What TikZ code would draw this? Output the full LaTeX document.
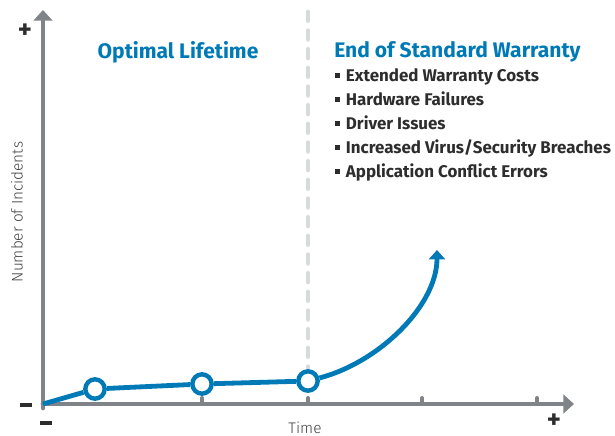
\documentclass[tikz,border=0pt]{standalone}
\usepackage{fontspec}
\setmainfont{Fira Sans}
\newfontfamily\lightfont{Fira Sans Light}
\usetikzlibrary{arrows.meta}
\definecolor{blueline}{RGB}{0,122,183}
\definecolor{axisgray}{RGB}{128,132,136}
\definecolor{dashgray}{RGB}{216,219,222}
\definecolor{textdark}{RGB}{45,45,45}
\begin{document}
\begin{tikzpicture}[x=0.75pt,y=-0.75pt,
  axis/.style={draw=axisgray,line width=3.6pt,line cap=round,-{Triangle[length=8pt,width=14pt]}},
  tick/.style={draw=axisgray,line width=3pt,line cap=round},
  dashline/.style={draw=dashgray,line width=3.6pt,line cap=round,dash pattern=on 6.5pt off 7.5pt},
  curve/.style={draw=blueline,line width=3.6pt},
  dot/.style={circle,draw=blueline,fill=white,line width=3.3pt,minimum size=14.5pt,inner sep=0pt},
  sign/.style={text=textdark,font=\bfseries\fontsize{20}{20}\selectfont,inner sep=0pt},
  title/.style={text=blueline,font=\fontsize{15.8}{16}\selectfont\bfseries,inner sep=0pt,anchor=base west},
  item/.style={text=textdark,font=\fontsize{12.7}{13}\selectfont\bfseries,inner sep=0pt,anchor=base west},
  axlabel/.style={text=textdark!90,font=\lightfont\fontsize{11.5}{12}\selectfont,inner sep=0pt}
]
\useasboundingbox (0,0) rectangle (615,436);
\newcommand{\bul}{\rule[0.2em]{0.28em}{0.28em}\hspace{0.35em}}
% dashed divider
\coordinate (dtop) at (308,12);
\coordinate (dbot) at (308,372);
\draw[dashline] (dtop) -- (dbot);
% axes
\coordinate (O) at (43,404);
\coordinate (ybot) at (43,408);
\coordinate (ytop) at (43,10);
\coordinate (xend) at (574,404);
\draw[axis] (ybot) -- (ytop);
\draw[axis] (O) -- (xend);
\foreach \tx [count=\i] in {202,308,422,537}{
  \coordinate (tb\i) at (\tx,404);
  \coordinate (tt\i) at (\tx,398);
  \draw[tick] (tb\i) -- (tt\i);
}
% curve
\node[dot] (p1) at (95,389) {};
\node[dot] (p2) at (202,384) {};
\node[dot] (p3) at (308,381) {};
\coordinate (tip) at (437,250);
\draw[curve] (O) -- (p1) -- (p2) -- (p3);
\draw[curve,-{Triangle[length=7pt,width=12pt]}] (p3) .. controls (380,362) and (437,305) .. (tip);
% signs
\node[sign] (yplus) at (25,31) {+};
\node[sign] (yminus) at (26,405) {\rule{9pt}{2.8pt}};
\node[sign] (xminus) at (46,423) {\rule{9pt}{2.8pt}};
\node[sign] (xplus) at (554,421) {+};
% axis labels
\node[axlabel] (time) at (305,428) {Time};
\node[axlabel,rotate=90] (noi) at (17,212) {Number of Incidents};
% titles
\node[title,anchor=base] (opt) at (178,58) {Optimal Lifetime};
\node[title] (eosw) at (334,57) {End of Standard Warranty};
\node[item] (i1) at (335,81) {\bul Extended Warranty Costs};
\node[item] (i2) at (335,105) {\bul Hardware Failures};
\node[item] (i3) at (335,129) {\bul Driver Issues};
\node[item] (i4) at (335,153) {\bul Increased Virus/Security Breaches};
\node[item] (i5) at (335,177) {\bul Application Conflict Errors};
\end{tikzpicture}
\end{document}
